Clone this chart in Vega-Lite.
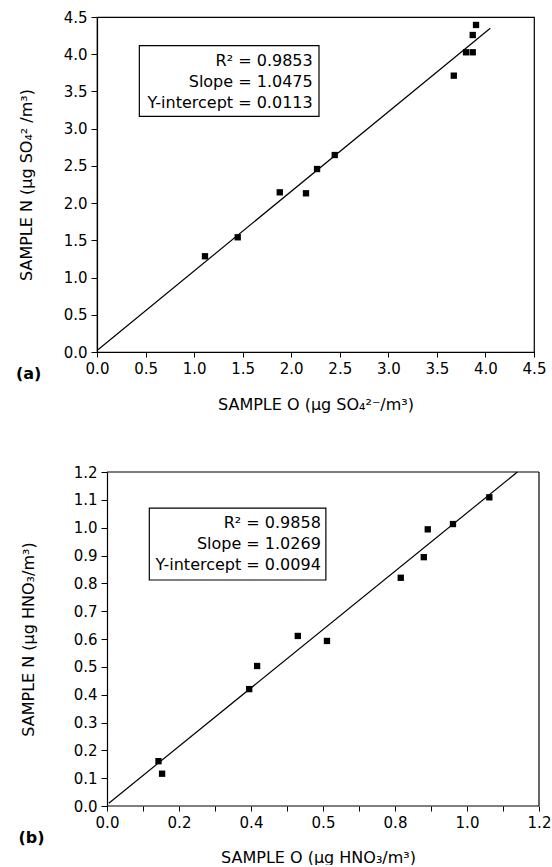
{
  "$schema": "https://vega.github.io/schema/vega-lite/v6.json",
  "background": "white",
  "padding": {"left": 15, "top": 9, "right": 0, "bottom": 0},
  "columns": 1,
  "spacing": 52,
  "datasets": {
    "a_points": [
      {"x": 1.112, "y": 1.286}, {"x": 1.449, "y": 1.541}, {"x": 1.882, "y": 2.145},
      {"x": 2.152, "y": 2.132}, {"x": 2.266, "y": 2.458}, {"x": 2.448, "y": 2.646},
      {"x": 3.674, "y": 3.712}, {"x": 3.80, "y": 4.026}, {"x": 3.869, "y": 4.026},
      {"x": 3.869, "y": 4.258}, {"x": 3.903, "y": 4.393}
    ],
    "a_line": [{"x": 0.01, "y": 0.03}, {"x": 4.05, "y": 4.35}],
    "a_box": [{"x": 0.436, "x2": 2.286, "y": 4.115, "y2": 3.166}],
    "a_text": [
      {"x": 2.221, "y": 3.838, "t": "R² = 0.9853"},
      {"x": 2.221, "y": 3.556, "t": "Slope = 1.0475"},
      {"x": 2.221, "y": 3.274, "t": "Y-intercept = 0.0113"}
    ],
    "a_tag": [{"x": -0.834, "y": -0.363, "t": "(a)"}],
    "b_points": [
      {"x": 0.143, "y": 0.161}, {"x": 0.153, "y": 0.116}, {"x": 0.395, "y": 0.420},
      {"x": 0.417, "y": 0.503}, {"x": 0.530, "y": 0.611}, {"x": 0.611, "y": 0.593},
      {"x": 0.816, "y": 0.820}, {"x": 0.880, "y": 0.894}, {"x": 0.891, "y": 0.994},
      {"x": 0.961, "y": 1.013}, {"x": 1.062, "y": 1.109}
    ],
    "b_line": [{"x": 0.005, "y": 0.01}, {"x": 1.14, "y": 1.2}],
    "b_box": [{"x": 0.1175, "x2": 0.608, "y": 1.070, "y2": 0.812}],
    "b_frame": [
      {"x": 0, "x2": 1.2, "y": 0, "y2": 0},
      {"x": 0, "x2": 1.2, "y": 1.2, "y2": 1.2},
      {"x": 1.2, "x2": 1.2, "y": 0, "y2": 1.2}
    ],
    "b_text": [
      {"x": 0.594, "y": 0.999, "t": "R² = 0.9858"},
      {"x": 0.594, "y": 0.923, "t": "Slope = 1.0269"},
      {"x": 0.594, "y": 0.848, "t": "Y-intercept = 0.0094"}
    ],
    "b_tag": [{"x": -0.246, "y": -0.132, "t": "(b)"}]
  },
  "config": {
    "font": "DejaVu Sans",
    "view": {"stroke": "black", "strokeWidth": 1.2},
    "axis": {
      "grid": false,
      "domainColor": "black",
      "domainWidth": 1.2,
      "tickColor": "black",
      "tickWidth": 1,
      "tickSize": 5,
      "labelColor": "black",
      "titleColor": "black",
      "labelFont": "DejaVu Sans",
      "titleFont": "DejaVu Sans",
      "labelFontSize": 15,
      "titleFontSize": 16,
      "titleFontWeight": "normal",
      "labelFlush": false,
      "labelOverlap": false,
      "labelBound": false
    }
  },
  "concat": [
    {
      "width": 437,
      "height": 335,
      "layer": [
        {
          "data": {"name": "a_box"},
          "mark": {"type": "rect", "fill": "white", "stroke": "black", "strokeWidth": 1.2},
          "encoding": {
            "x": {"field": "x", "type": "quantitative",
              "scale": {"domain": [0, 4.5], "nice": false, "zero": false},
              "axis": {"values": [0, 0.5, 1, 1.5, 2, 2.5, 3, 3.5, 4, 4.5], "tickCount": 10,
                "labelExpr": "format(datum.value, '.1f')", "labelOverlap": false, "labelPadding": 4, "titlePadding": 20},
              "title": "SAMPLE O (µg SO₄²⁻/m³)"},
            "x2": {"field": "x2"},
            "y": {"field": "y", "type": "quantitative",
              "scale": {"domain": [0, 4.5], "nice": false, "zero": false},
              "axis": {"values": [0, 0.5, 1, 1.5, 2, 2.5, 3, 3.5, 4, 4.5], "tickCount": 10,
                "labelExpr": "format(datum.value, '.1f')", "labelOverlap": false, "tickSize": 6, "labelPadding": 4, "titlePadding": 29},
              "title": "SAMPLE N (µg SO₄² /m³)"},
            "y2": {"field": "y2"}
          }
        },
        {
          "data": {"name": "a_line"},
          "mark": {"type": "line", "color": "black", "strokeWidth": 1.2},
          "encoding": {
            "x": {"field": "x", "type": "quantitative"},
            "y": {"field": "y", "type": "quantitative"}
          }
        },
        {
          "data": {"name": "a_points"},
          "mark": {"type": "point", "shape": "square", "filled": true, "color": "black", "size": 40, "opacity": 1},
          "encoding": {
            "x": {"field": "x", "type": "quantitative"},
            "y": {"field": "y", "type": "quantitative"}
          }
        },
        {
          "data": {"name": "a_text"},
          "mark": {"type": "text", "align": "right", "baseline": "alphabetic", "fontSize": 16, "color": "black"},
          "encoding": {
            "x": {"field": "x", "type": "quantitative"},
            "y": {"field": "y", "type": "quantitative"},
            "text": {"field": "t"}
          }
        },
        {
          "data": {"name": "a_tag"},
          "mark": {"type": "text", "align": "left", "baseline": "alphabetic", "fontSize": 16, "fontWeight": "bold", "color": "black"},
          "encoding": {
            "x": {"field": "x", "type": "quantitative"},
            "y": {"field": "y", "type": "quantitative"},
            "text": {"field": "t"}
          }
        }
      ]
    },
    {
      "width": 442,
      "height": 334,
      "view": {"stroke": null},
      "layer": [
        {
          "data": {"name": "b_box"},
          "mark": {"type": "rect", "fill": "white", "stroke": "black", "strokeWidth": 1.2},
          "encoding": {
            "x": {"field": "x", "type": "quantitative",
              "scale": {"domain": [-0.02778, 1.2], "nice": false, "zero": false},
              "axis": {"values": [0, 0.1, 0.2, 0.3, 0.4, 0.5, 0.6, 0.7, 0.8, 0.9, 1, 1.1, 1.2], "tickCount": 13,
                "labelExpr": "datum.value == 0.6 ? '0.5' : (round(datum.value * 10) % 2 == 0 ? format(datum.value, '.1f') : '')",
                "domain": false, "labelOverlap": false, "labelPadding": 4, "titlePadding": 19},
              "title": "SAMPLE O (µg HNO₃/m³)"},
            "x2": {"field": "x2"},
            "y": {"field": "y", "type": "quantitative",
              "scale": {"domain": [0, 1.2], "nice": false, "zero": false},
              "axis": {"values": [0, 0.1, 0.2, 0.3, 0.4, 0.5, 0.6, 0.7, 0.8, 0.9, 1, 1.1, 1.2], "tickCount": 13,
                "labelExpr": "format(datum.value, '.1f')", "labelOverlap": false, "offset": -10, "tickSize": 6, "labelPadding": 4, "titlePadding": 37},
              "title": "SAMPLE N (µg HNO₃/m³)"},
            "y2": {"field": "y2"}
          }
        },
        {
          "data": {"name": "b_frame"},
          "mark": {"type": "rule", "color": "black", "strokeWidth": 1.2},
          "encoding": {
            "x": {"field": "x", "type": "quantitative"},
            "x2": {"field": "x2"},
            "y": {"field": "y", "type": "quantitative"},
            "y2": {"field": "y2"}
          }
        },
        {
          "data": {"name": "b_line"},
          "mark": {"type": "line", "color": "black", "strokeWidth": 1.2},
          "encoding": {
            "x": {"field": "x", "type": "quantitative"},
            "y": {"field": "y", "type": "quantitative"}
          }
        },
        {
          "data": {"name": "b_points"},
          "mark": {"type": "point", "shape": "square", "filled": true, "color": "black", "size": 40, "opacity": 1},
          "encoding": {
            "x": {"field": "x", "type": "quantitative"},
            "y": {"field": "y", "type": "quantitative"}
          }
        },
        {
          "data": {"name": "b_text"},
          "mark": {"type": "text", "align": "right", "baseline": "alphabetic", "fontSize": 16, "color": "black"},
          "encoding": {
            "x": {"field": "x", "type": "quantitative"},
            "y": {"field": "y", "type": "quantitative"},
            "text": {"field": "t"}
          }
        },
        {
          "data": {"name": "b_tag"},
          "mark": {"type": "text", "align": "left", "baseline": "alphabetic", "fontSize": 16, "fontWeight": "bold", "color": "black"},
          "encoding": {
            "x": {"field": "x", "type": "quantitative"},
            "y": {"field": "y", "type": "quantitative"},
            "text": {"field": "t"}
          }
        }
      ]
    }
  ]
}
